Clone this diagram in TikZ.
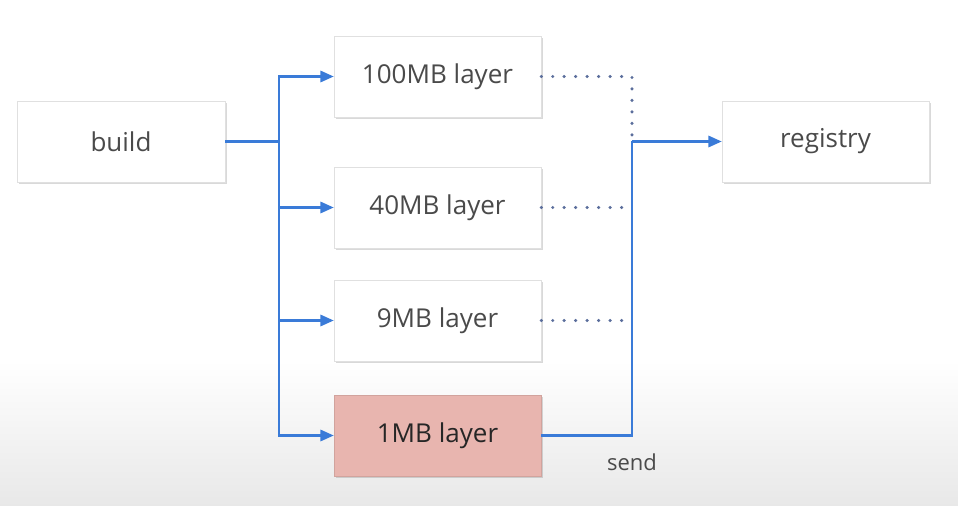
\documentclass[tikz,border=0pt]{standalone}
\usepackage{fontspec}
\setmainfont{Open Sans}
\usepackage{xcolor}
\usetikzlibrary{shadows,arrows.meta}
\definecolor{linkblue}{HTML}{3A7BD8}
\definecolor{dotblue}{HTML}{5B6E9C}
\definecolor{boxtext}{HTML}{4A4A4A}
\definecolor{hotpink}{HTML}{E8B5AF}
\tikzset{
  layerbox/.style={draw=white!88!black, line width=0.4pt, fill=white, minimum width=155.25pt, minimum height=60.75pt, text=boxtext, font=\fontsize{19.5}{22}\selectfont, drop shadow={shadow xshift=1.2pt, shadow yshift=-1.8pt, opacity=0.25, fill=black!60}},
  feed/.style={linkblue, line width=1.6pt, -{Triangle[length=10pt,width=8.5pt]}},
  dotlink/.style={dotblue, line width=2.6pt, line cap=round, dash pattern=on 0pt off 8.6pt}
}
\begin{document}
\begin{tikzpicture}[x=0.75pt,y=-0.75pt]
\shade[top color=white, bottom color=black!9] (0,360) rectangle (958,506);
\useasboundingbox (0,0) rectangle (958,506);
\node at (121,141.5) (build) [layerbox, minimum width=156pt] {build};
\node at (437.5,76.5) (l100) [layerbox] {100MB layer};
\node at (437.5,207.5) (l40) [layerbox] {40MB layer};
\node at (437.5,320.5) (l9) [layerbox] {9MB layer};
\node at (437.5,435.5) (l1) [layerbox, fill=hotpink, draw=hotpink!90!black, text=black!85] {1MB layer};
\node at (825.5,141.5) (registry) [layerbox] {registry};
\coordinate (split) at (279,141.5);
\coordinate (join) at (632,141.5);
\node at (632,462) (send) [text=boxtext, font=\fontsize{16.5}{19}\selectfont] {send};
% build fans out to the layers
\draw[linkblue, line width=1.6pt] (build.east) -- (split);
\draw[feed] (split) |- (l100.west);
\draw[feed] (split) |- (l40.west);
\draw[feed] (split) |- (l9.west);
\draw[feed] (split) |- (l1.west);
% cached layers
\draw[dotlink] (l100.east) -| (join);
\draw[dotlink] (l40.east) -- (l40.east -| join);
\draw[dotlink] (l9.east) -- (l9.east -| join);
% only the small one is sent
\draw[linkblue, line width=1.6pt] (l1.east) -| (join);
\draw[feed] (join) -- (registry.west);
\end{tikzpicture}
\end{document}
